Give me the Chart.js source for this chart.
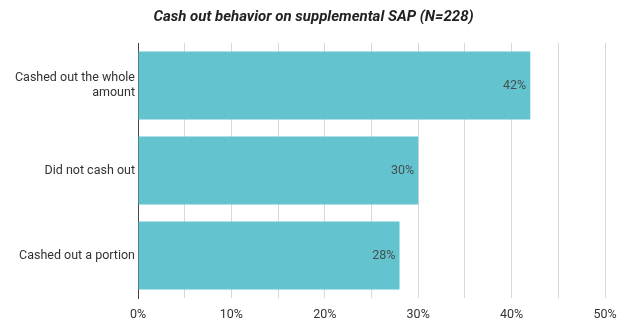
<!DOCTYPE html>
<html>
<head>
<meta charset="utf-8">
<script src="https://cdn.jsdelivr.net/npm/chart.js@4"></script>
<style>
  html, body { margin: 0; padding: 0; background: #fff; }
  #wrap { width: 627px; height: 324px; }
</style>
</head>
<body>
<div id="wrap"><canvas id="chart"></canvas></div>
<script>
// survey answers and their shares (percent)
var categories = [
    ["Cashed out the whole", "amount"],
    "Did not cash out",
    "Cashed out a portion"
];
var shares = [42, 30, 28];

var axisMax = 50;
var axisStep = 5;

// writes the value inside the end of every bar
var barValueLabels = {
    id: 'barValueLabels',
    afterDatasetsDraw: function (chart) {
        var ctx = chart.ctx;
        var meta = chart.getDatasetMeta(0);
        ctx.save();
        ctx.font = '12.5px Roboto';
        ctx.fillStyle = '#454f50';
        ctx.textAlign = 'right';
        ctx.textBaseline = 'middle';
        meta.data.forEach(function (bar, i) {
            ctx.fillText(shares[i] + '%', bar.x - 4, bar.y);
        });
        ctx.restore();
    }
};

new Chart(document.getElementById('chart'), {
    type: 'bar',
    data: {
        labels: categories,
        datasets: [{
            data: shares,
            backgroundColor: '#63c4d0',
            barPercentage: 0.8,
            categoryPercentage: 1.0
        }]
    },
    options: {
        indexAxis: 'y',
        responsive: true,
        maintainAspectRatio: false,
        animation: false,
        layout: { padding: { left: 0, right: 0, top: 5, bottom: 0 } },
        plugins: {
            legend: { display: false },
            tooltip: { enabled: false },
            title: {
                display: true,
                text: 'Cash out behavior on supplemental SAP (N=228)',
                font: { family: 'Roboto', size: 15, weight: 'bold', style: 'italic' },
                color: '#222',
                padding: { top: 3, bottom: 17 }
            }
        },
        scales: {
            x: {
                min: 0,
                max: axisMax,
                ticks: {
                    stepSize: axisStep,
                    font: { family: 'Roboto', size: 12.5 },
                    color: '#333',
                    padding: 9,
                    maxRotation: 0,
                    autoSkip: false,
                    callback: function (v) { return v % 10 === 0 ? v + '%' : ''; }
                },
                grid: {
                    color: function (c) { return c.tick && c.tick.value === 0 ? '#444' : '#d9d9d9'; },
                    lineWidth: 1,
                    drawTicks: false
                },
                border: { display: false },
                afterFit: function (scale) {
                    scale.height = 26;
                    scale.paddingRight = 22;
                }
            },
            y: {
                ticks: {
                    font: { family: 'Roboto', size: 12.5 },
                    color: '#333',
                    padding: 3
                },
                grid: { display: false, drawTicks: false },
                border: { display: true, color: '#444', width: 1 },
                afterFit: function (scale) { scale.width = 138; }
            }
        }
    },
    plugins: [barValueLabels]
});
</script>
</body>
</html>
